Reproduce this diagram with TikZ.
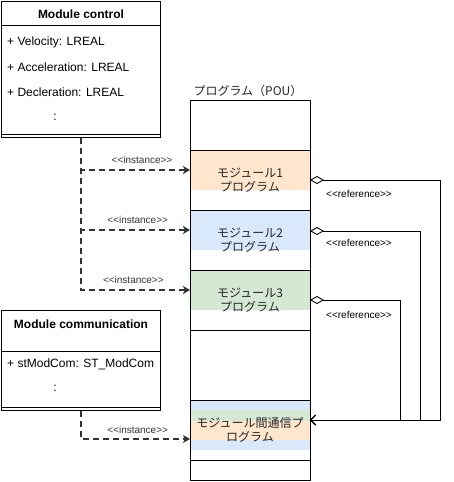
\documentclass[tikz,border=0pt]{standalone}
\usepackage{fontspec}
\setmainfont{Liberation Sans}
\newfontfamily\jpfont{Noto Sans CJK JP}
\newfontfamily\stereofont{Liberation Sans} % no TeX ligatures, keeps << as two signs
\usepackage{tikz}
\usetikzlibrary{calc,positioning,arrows.meta,backgrounds}
\definecolor{modorange}{HTML}{FFE6CC}
\definecolor{modblue}{HTML}{DAE8FC}
\definecolor{modgreen}{HTML}{D5E8D4}
\def\drawinst{\draw[color=black!80, line width=2pt, dash pattern=on 6pt off 4pt, -{Stealth[length=7pt,width=8pt,inset=2pt]}]}
\def\drawref{\draw[line width=0.9pt, {Diamond[open,length=14pt,width=8pt]}-{Straight Barb[length=5pt,width=10pt]}]}
\def\drawsep{\draw[line width=1pt]}
\tikzset{
  classbox/.style={draw, line width=1pt, minimum width=159pt, inner sep=0pt, anchor=north west},
  classtitle/.style={font=\fontsize{12}{14}\selectfont\bfseries},
  attr/.style={anchor=west, inner sep=1pt},
  sec/.style={draw, line width=1pt, minimum width=120pt, inner sep=0pt, outer sep=0pt, font=\fontsize{12}{14}\selectfont\jpfont, align=center, text=black!85},
  fillbox/.style={minimum width=120pt, inner sep=0pt, outer sep=0pt, draw=none},
  stereo/.style={font=\fontsize{10}{12}\selectfont\stereofont, inner sep=1pt}
}
\begin{document}
\begin{tikzpicture}[x=1pt, y=-1pt, font=\fontsize{12}{14}\selectfont]
\useasboundingbox (0,0) rectangle (454,482);

% ---------- Module control on the top left
\node[classbox, minimum height=136pt] (ctl) at (1,1) {};
\node[classtitle] (ctltitle) at ($ (ctl.north) + (0,13) $) {Module control};
\drawsep ($ (ctl.north west) + (0,24) $) -- ($ (ctl.north east) + (0,24) $);
\node[attr] (vel) at ($ (ctl.north west) + (5,41) $) {+ Velocity: LREAL};
\node[attr] (acc) at ($ (ctl.north west) + (5,66) $) {+ Acceleration: LREAL};
\node[attr] (dec) at ($ (ctl.north west) + (5,91) $) {+ Decleration: LREAL};
\node (ctldots) at ($ (ctl.north west) + (54,116) $) {:};
\drawsep ($ (ctl.south west) + (0,-4) $) -- ($ (ctl.south east) + (0,-4) $); % method part

% ---------- Module communication on the bottom left
\node[classbox, minimum height=100pt] (com) at (1,310) {};
\node[classtitle] (comtitle) at ($ (com.north) + (0,14) $) {Module communication};
\drawsep ($ (com.north west) + (0,41) $) -- ($ (com.north east) + (0,41) $);
\node[attr] (stmod) at ($ (com.north west) + (5,54) $) {+ stModCom: ST\_ModCom};
\node (comdots) at ($ (com.north west) + (54,78) $) {:};
\drawsep ($ (com.south west) + (0,-4) $) -- ($ (com.south east) + (0,-4) $);

% ---------- The program (POU) stack
\node[sec, minimum height=50pt, anchor=north] (sec0) at (250,100) {};
\node[sec, minimum height=60pt, below=0pt of sec0] (sec1) {モジュール1\\プログラム};
\node[sec, minimum height=60pt, below=0pt of sec1] (sec2) {モジュール2\\プログラム};
\node[sec, minimum height=60pt, below=0pt of sec2] (sec3) {モジュール3\\プログラム};
\node[sec, minimum height=70pt, below=0pt of sec3] (sec4) {};
\node[sec, minimum height=60pt, below=0pt of sec4] (sec5) {モジュール間通信プ\\ログラム};
\node[sec, minimum height=20pt, below=0pt of sec5] (sec6) {};
\node[font=\fontsize{12}{14}\selectfont\jpfont, text=black!85] (poutitle) at ($ (sec0.north) + (-2,-9) $) {プログラム（POU）};

% colour bands behind the module texts
\begin{scope}[on background layer]
\node[fillbox, fill=modorange, minimum height=40pt, anchor=north] (fill1) at (sec1.north) {};
\node[fillbox, fill=modblue, minimum height=40pt, anchor=north] (fill2) at (sec2.north) {};
\node[fillbox, fill=modgreen, minimum height=40pt, anchor=north] (fill3) at (sec3.north) {};
\node[fillbox, fill=modblue, minimum height=10pt, anchor=north] (band1) at (sec5.north) {};
\node[fillbox, fill=modgreen, minimum height=11pt, below=0pt of band1] (band2) {};
\node[fillbox, fill=modorange, minimum height=19pt, below=0pt of band2] (band3) {};
\node[fillbox, fill=modblue, minimum height=10pt, below=0pt of band3] (band4) {};
\end{scope}

% ---------- <<instance>> links
\coordinate (comin) at ($ (sec5.west) + (0,9) $);
\drawinst (ctl.south) |- node[stereo, pos=0.78, above=4pt] (inst1) {<<instance>>} (fill1.west);
\drawinst (ctl.south) |- node[stereo, pos=0.76, above=4pt] (inst2) {<<instance>>} (fill2.west);
\drawinst (ctl.south) |- node[stereo, pos=0.74, above=4pt] (inst3) {<<instance>>} (fill3.west);
\drawinst (com.south) |- node[stereo, pos=0.76, above=3pt] (inst4) {<<instance>>} (comin);

% ---------- <<reference>> links, all into the communication program
\coordinate (refin) at ($ (sec5.east) + (0,-10) $);
\coordinate (agg2) at ($ (sec2.east) + (0,-9) $); % second diamond
\coordinate (r1) at ($ (sec1.east) + (130,0) $);
\coordinate (r2) at ($ (agg2) + (110,0) $);
\coordinate (r3) at ($ (sec3.east) + (90,0) $);
\drawref (sec1.east) -- (r1) |- (refin);
\drawref (agg2) -- (r2) |- (refin);
\drawref (sec3.east) -- (r3) |- (refin);
\node[stereo] (ref1) at ($ (sec1.east) + (49,14) $) {<<reference>>};
\node[stereo] (ref2) at ($ (agg2) + (49,12) $) {<<reference>>};
\node[stereo] (ref3) at ($ (sec3.east) + (49,15) $) {<<reference>>};
\end{tikzpicture}
\end{document}
